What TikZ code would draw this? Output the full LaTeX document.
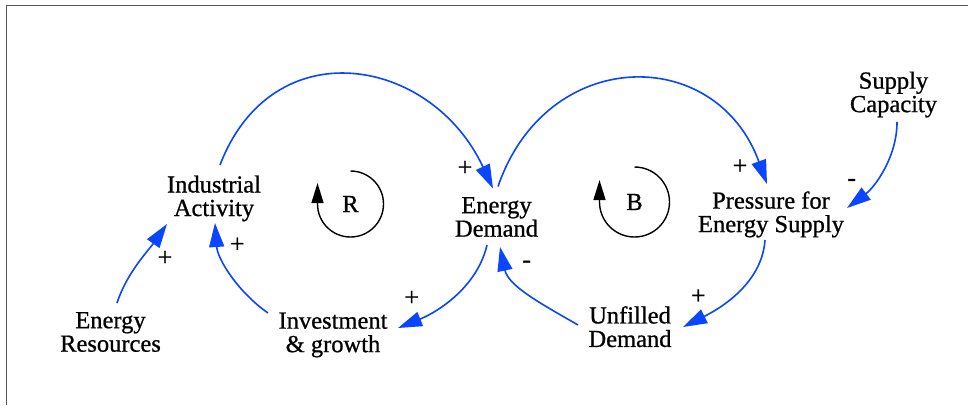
\documentclass[tikz,border=0pt]{standalone}
\usepackage{fontspec}
\setmainfont{Liberation Serif}
\newfontfamily\cldfont[FakeBold=0.8]{Liberation Serif}
\usetikzlibrary{arrows.meta}
\definecolor{cldblue}{RGB}{10,70,255}
\definecolor{framegray}{RGB}{85,85,85}
\begin{document}
\begin{tikzpicture}[x=1pt,y=1pt,
  cvar/.style={align=center, font=\cldfont\fontsize{24.5}{23.5}\selectfont, inner sep=0pt},
  sgn/.style={font=\cldfont\fontsize{26}{26}\selectfont, inner sep=0pt},
  link/.style={draw=cldblue, line width=1.6pt, -{Triangle[length=24pt,width=15pt]}},
  loopar/.style={draw=black, line width=1.4pt, -{Triangle[length=20pt,width=12pt]}}]
\fill[white] (0,0) rectangle (968,-405);
\useasboundingbox (0,0) rectangle (968,-405);
\draw[framegray, line width=1.6pt] (6.5,-405) -- (6.5,-5.5) -- (968,-5.5);

\node[cvar] (ia) at (214,-198.4) {Industrial\\Activity};
\node[cvar] (ed) at (496.5,-217) {Energy\\Demand};
\node[cvar] (pes) at (771,-214.4) {Pressure for\\Energy Supply};
\node[cvar] (sc) at (893.5,-94.5) {Supply\\Capacity};
\node[cvar] (er) at (110.5,-332) {Energy\\Resources};
\node[cvar] (ig) at (333,-335) {Investment\\\& growth};
\node[cvar] (ud) at (630,-326.7) {Unfilled\\Demand};
\node[cvar] (rl) at (350.5,-204) {R};
\node[cvar] (bl) at (634.5,-202) {B};

\draw[link] ([shift={(6,33.4)}]ia.center) .. controls +(69:146) and +(115:146) .. ([shift={(-3.5,28.5)}]ed.center);
\draw[link] ([shift={(1.5,30.5)}]ed.center) .. controls +(71:149) and +(110:149) .. ([shift={(-4,30.4)}]pes.center);
\draw[link] ([shift={(-6,-25.6)}]pes.center) .. controls +(-94:43) and +(26.5:43) .. ([shift={(53,-0.3)}]ud.center);
\draw[link] ([shift={(-52,1.7)}]ud.center) .. controls +(150:42) and +(-78:40) .. ([shift={(3.5,-30)}]ed.center);
\draw[link] ([shift={(-9.5,-28)}]ed.center) .. controls +(-103:43) and +(22:43) .. ([shift={(65,7)}]ig.center);
\draw[link] ([shift={(-65,22)}]ig.center) .. controls +(145:36.5) and +(-86:36.5) .. ([shift={(1,-24.6)}]ia.center);
\draw[link] ([shift={(6.5,29)}]er.center) .. controls +(72:32) and +(-125:32) .. ([shift={(-47,-25.6)}]ia.center);
\draw[link] ([shift={(3.5,-27.5)}]sc.center) .. controls +(-90:35) and +(37:35) .. ([shift={(76,6.4)}]pes.center);

\node[sgn] (s1) at (465,-168.3) {+};
\node[sgn] (s2) at (740,-166.7) {+};
\node[sgn] (s3) at (698.3,-296.7) {+};
\node[sgn] (s4) at (526.7,-264.3) {-};
\node[sgn] (s5) at (411.7,-298.3) {+};
\node[sgn] (s6) at (237.3,-245) {+};
\node[sgn] (s7) at (165,-258.3) {+};
\node[sgn] (s8) at (851.7,-182.6) {-};

\draw[loopar] ([shift={(0,33)}]rl.center) arc[start angle=90,end angle=-180,radius=33] -- ++(0,21);
\draw[loopar] ([shift={(0,35)}]bl.center) arc[start angle=90,end angle=-180,radius=35] -- ++(0,22);
\end{tikzpicture}
\end{document}
